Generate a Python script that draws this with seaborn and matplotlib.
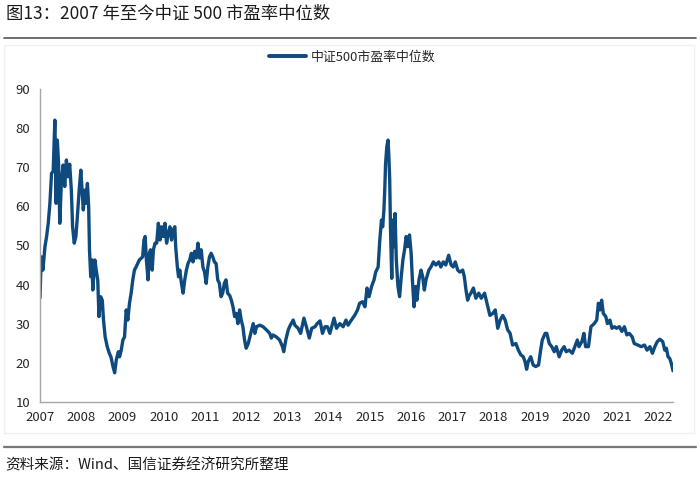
import matplotlib
matplotlib.use("Agg")
import matplotlib.pyplot as plt
import seaborn as sns
import pandas as pd
from matplotlib.lines import Line2D
from matplotlib.patches import Rectangle

# ---- data ----
years = [
    2007.00, 2007.03, 2007.07, 2007.12, 2007.16, 2007.20, 2007.24, 2007.28, 2007.32, 2007.36,
    2007.39, 2007.42, 2007.45, 2007.48, 2007.52, 2007.56, 2007.60, 2007.64, 2007.68, 2007.72,
    2007.76, 2007.79, 2007.83, 2007.87, 2007.90, 2007.95, 2007.99, 2008.02, 2008.05, 2008.09,
    2008.11, 2008.15, 2008.18, 2008.20, 2008.23, 2008.26, 2008.28, 2008.33, 2008.37, 2008.40,
    2008.43, 2008.47, 2008.51, 2008.54, 2008.58, 2008.63, 2008.68, 2008.72, 2008.77, 2008.81,
    2008.85, 2008.90, 2008.93, 2008.97, 2009.01, 2009.05, 2009.09, 2009.13, 2009.17, 2009.21,
    2009.25, 2009.29, 2009.33, 2009.41, 2009.49, 2009.52, 2009.55, 2009.58, 2009.62, 2009.65,
    2009.68, 2009.72, 2009.75, 2009.79, 2009.83, 2009.87, 2009.91, 2009.95, 2009.99, 2010.03,
    2010.07, 2010.11, 2010.15, 2010.19, 2010.23, 2010.27, 2010.29, 2010.33, 2010.36, 2010.39,
    2010.43, 2010.47, 2010.51, 2010.55, 2010.59, 2010.63, 2010.67, 2010.71, 2010.75, 2010.79,
    2010.83, 2010.87, 2010.91, 2010.95, 2010.99, 2011.03, 2011.07, 2011.11, 2011.15, 2011.19,
    2011.23, 2011.27, 2011.31, 2011.35, 2011.39, 2011.43, 2011.47, 2011.51, 2011.55, 2011.60,
    2011.64, 2011.68, 2011.72, 2011.76, 2011.80, 2011.84, 2011.88, 2011.92, 2011.96, 2012.00,
    2012.05, 2012.09, 2012.13, 2012.17, 2012.21, 2012.25, 2012.33, 2012.41, 2012.49, 2012.57,
    2012.61, 2012.65, 2012.73, 2012.81, 2012.88, 2012.91, 2012.96, 2013.02, 2013.07, 2013.14,
    2013.18, 2013.26, 2013.32, 2013.40, 2013.46, 2013.53, 2013.59, 2013.67, 2013.72, 2013.79,
    2013.85, 2013.91, 2013.97, 2014.03, 2014.13, 2014.19, 2014.27, 2014.35, 2014.42, 2014.47,
    2014.55, 2014.63, 2014.70, 2014.75, 2014.82, 2014.88, 2014.93, 2014.98, 2015.04, 2015.10,
    2015.14, 2015.20, 2015.24, 2015.28, 2015.31, 2015.34, 2015.36, 2015.38, 2015.41, 2015.44,
    2015.46, 2015.48, 2015.50, 2015.53, 2015.55, 2015.58, 2015.61, 2015.64, 2015.68, 2015.72,
    2015.76, 2015.80, 2015.84, 2015.88, 2015.92, 2015.96, 2016.00, 2016.03, 2016.07, 2016.11,
    2016.14, 2016.19, 2016.24, 2016.28, 2016.32, 2016.36, 2016.43, 2016.48, 2016.54, 2016.60,
    2016.67, 2016.72, 2016.78, 2016.84, 2016.91, 2016.97, 2017.02, 2017.07, 2017.13, 2017.18,
    2017.25, 2017.29, 2017.33, 2017.37, 2017.40, 2017.45, 2017.51, 2017.57, 2017.64, 2017.70,
    2017.78, 2017.86, 2017.91, 2017.98, 2018.04, 2018.10, 2018.16, 2018.22, 2018.28, 2018.34,
    2018.40, 2018.46, 2018.54, 2018.60, 2018.66, 2018.72, 2018.76, 2018.80, 2018.84, 2018.90,
    2018.96, 2019.02, 2019.09, 2019.14, 2019.18, 2019.25, 2019.29, 2019.35, 2019.41, 2019.47,
    2019.52, 2019.59, 2019.65, 2019.71, 2019.76, 2019.83, 2019.91, 2019.97, 2020.03, 2020.07,
    2020.14, 2020.19, 2020.23, 2020.30, 2020.36, 2020.44, 2020.50, 2020.54, 2020.58, 2020.62,
    2020.66, 2020.72, 2020.76, 2020.82, 2020.87, 2020.93, 2020.98, 2021.05, 2021.11, 2021.17,
    2021.23, 2021.29, 2021.36, 2021.41, 2021.50, 2021.58, 2021.66, 2021.72, 2021.79, 2021.85,
    2021.91, 2021.97, 2022.03, 2022.10, 2022.15, 2022.19, 2022.23, 2022.27, 2022.31, 2022.35,
]
pe_median = [
    36.6, 47.1, 43.7, 49.7, 52.3, 55.7, 60.8, 68.5, 69.0, 82.1,
    60.8, 77.0, 71.0, 55.7, 66.8, 70.6, 65.1, 71.9, 67.6, 70.8,
    64.2, 54.8, 50.6, 52.3, 56.5, 64.2, 69.3, 64.2, 59.1, 64.2,
    60.8, 65.9, 60.0, 48.9, 42.0, 46.3, 38.6, 46.3, 43.2, 41.2,
    31.8, 36.9, 36.0, 30.9, 26.6, 24.1, 22.4, 21.5, 19.0, 17.4,
    20.7, 22.8, 21.5, 23.2, 25.8, 26.6, 33.5, 30.9, 35.2, 37.8,
    41.2, 43.7, 44.5, 46.3, 47.1, 51.4, 52.3, 46.3, 41.2, 48.0,
    48.9, 43.7, 48.9, 50.6, 50.6, 55.7, 51.4, 54.8, 52.3, 55.7,
    50.6, 53.1, 54.8, 51.4, 54.0, 54.8, 49.7, 44.6, 42.0, 43.7,
    40.3, 37.8, 41.2, 43.7, 45.4, 46.3, 48.0, 45.8, 48.5, 46.8,
    50.6, 46.8, 48.9, 44.5, 43.2, 40.3, 44.5, 47.1, 48.0, 47.1,
    45.8, 45.4, 41.2, 40.3, 36.9, 37.8, 40.3, 41.2, 37.8, 37.2,
    36.0, 34.3, 31.8, 32.6, 30.0, 33.5, 30.9, 29.2, 25.8, 23.7,
    24.9, 26.6, 28.4, 30.0, 27.5, 29.2, 29.6, 29.2, 28.4, 27.5,
    26.3, 27.1, 26.6, 25.8, 24.1, 22.8, 25.8, 28.4, 29.6, 30.9,
    29.6, 28.8, 27.5, 31.4, 29.2, 26.3, 28.8, 29.2, 30.0, 30.7,
    27.5, 29.2, 29.2, 27.5, 31.4, 28.8, 30.0, 29.2, 30.9, 29.6,
    30.9, 32.1, 33.5, 35.2, 35.6, 34.3, 39.1, 36.9, 39.5, 41.2,
    43.2, 44.5, 51.4, 56.5, 54.8, 59.1, 64.2, 71.0, 75.3, 77.0,
    72.8, 66.8, 54.0, 41.6, 56.5, 49.7, 58.2, 46.3, 39.5, 36.9,
    42.0, 46.3, 48.9, 52.3, 49.7, 52.7, 48.0, 41.2, 34.3, 39.5,
    36.0, 41.2, 43.7, 42.0, 38.6, 41.2, 43.7, 44.5, 45.8, 45.0,
    45.8, 44.5, 45.8, 45.0, 47.5, 45.0, 44.5, 45.8, 43.7, 43.2,
    43.7, 42.0, 38.6, 36.0, 37.0, 37.8, 39.1, 36.5, 37.8, 36.5,
    37.8, 34.3, 32.1, 32.6, 33.5, 28.8, 30.9, 32.1, 30.9, 28.4,
    27.5, 24.5, 24.9, 23.2, 22.0, 21.5, 20.3, 18.3, 20.3, 21.5,
    19.4, 19.0, 19.4, 23.2, 25.8, 27.5, 27.5, 24.9, 24.1, 22.8,
    24.1, 21.5, 23.2, 24.1, 22.8, 23.2, 22.4, 24.1, 25.8, 24.1,
    25.4, 27.5, 24.1, 24.1, 29.2, 30.0, 30.9, 35.2, 33.5, 36.0,
    32.6, 31.8, 30.0, 30.9, 28.8, 29.2, 28.8, 29.2, 28.0, 29.2,
    27.1, 27.5, 26.6, 24.9, 24.5, 24.1, 24.5, 23.2, 24.1, 22.4,
    24.1, 25.4, 26.0, 25.4, 23.2, 23.7, 21.5, 21.1, 19.8, 17.9,
]
year_ticks = list(range(2007, 2023))
y_ticks = [10, 20, 30, 40, 50, 60, 70, 80, 90]
series_name = "中证500市盈率中位数"
title_text = "图13：2007 年至今中证 500 市盈率中位数"
source_text = "资料来源：Wind、国信证券经济研究所整理"

LINE_COLOR = "#0e4a7e"
AXIS_GRAY = "#a6a6a6"
TEXT_COLOR = "#262626"

sns.set_theme(style="white")
plt.rcParams["font.family"] = ["Liberation Sans Narrow", "Noto Sans CJK SC", "DejaVu Sans"]
plt.rcParams["axes.unicode_minus"] = False

df = pd.DataFrame({"year": years, "pe": pe_median})

fig = plt.figure(figsize=(7.0, 4.8), dpi=100)

# faint frame around the chart area
fig.add_artist(Rectangle((4 / 700, 1 - 433 / 480), 690 / 700, (433 - 45) / 480,
                         transform=fig.transFigure, fill=False, edgecolor="#f0f0f0",
                         linewidth=1.0))

ax = fig.add_axes([40 / 700, 1 - 401.7 / 480, (673 - 40) / 700, (401.7 - 89.3) / 480])

sns.lineplot(data=df, x="year", y="pe", ax=ax, color=LINE_COLOR, linewidth=2.4,
             sort=True, legend=False)

ax.set_xlim(2007, 2022.35)
ax.set_ylim(10, 90)
ax.set_xticks(year_ticks)
ax.set_xticklabels([str(y) for y in year_ticks])
ax.set_yticks(y_ticks)
ax.set_xlabel("")
ax.set_ylabel("")
for side in ["top", "right"]:
    ax.spines[side].set_visible(False)
for side in ["left", "bottom"]:
    ax.spines[side].set_color(AXIS_GRAY)
    ax.spines[side].set_linewidth(1.0)
ax.tick_params(axis="both", which="major", direction="out", length=4, width=1.0,
               color=AXIS_GRAY, labelsize=9.5, labelcolor=TEXT_COLOR, pad=3)
ax.grid(False)

# legend
handle = Line2D([], [], color=LINE_COLOR, linewidth=2.8)
fig.legend([handle], [series_name], loc="center", bbox_to_anchor=(352 / 700, 1 - 57 / 480),
           frameon=False, handlelength=2.9, handletextpad=0.35,
           prop={"family": ["Noto Sans CJK SC", "DejaVu Sans"], "size": 9.3})

# title and rules
fig.text(6 / 700, 1 - 14 / 480, title_text, ha="left", va="center", fontsize=12.5,
         color="#1a1a1a", family=["Noto Sans CJK SC", "DejaVu Sans"])
fig.add_artist(Line2D([4 / 700, 696 / 700], [1 - 38 / 480, 1 - 38 / 480],
                      color="#555555", linewidth=1.2, transform=fig.transFigure))
fig.add_artist(Line2D([4 / 700, 696 / 700], [1 - 447 / 480, 1 - 447 / 480],
                      color="#777777", linewidth=1.6, transform=fig.transFigure))
fig.text(5 / 700, 1 - 465 / 480, source_text, ha="left", va="center", fontsize=10.5,
         color="#1a1a1a", family=["Noto Sans CJK SC", "DejaVu Sans"])

fig.savefig("out.png", dpi=100)
